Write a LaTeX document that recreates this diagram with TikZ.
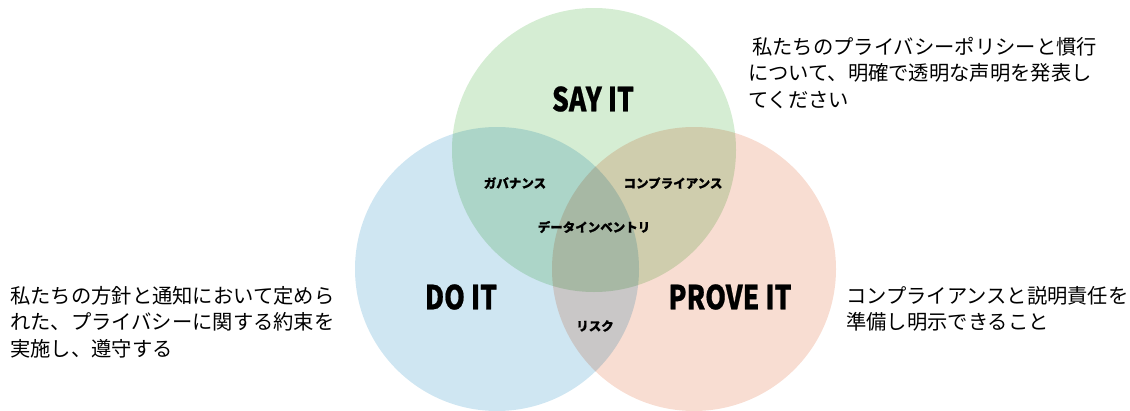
\documentclass[tikz,border=0pt]{standalone}
\usepackage{fontspec}
\newfontfamily\jp{Noto Sans CJK JP}
\definecolor{cgreen}{HTML}{D5EDD3}
\definecolor{cblue}{HTML}{CFE6F2}
\definecolor{corange}{HTML}{F8DDD2}
\newcommand{\bigtxt}[1]{\scalebox{0.8}[1]{#1}}
\tikzset{
  venn/.style={circle, minimum size=284pt, inner sep=0pt, draw=none},
  big/.style={font=\jp\bfseries\addfontfeatures{FakeBold=0.8}\fontsize{33}{36}\selectfont, inner sep=0pt},
  small/.style={font=\jp\bfseries\addfontfeatures{FakeBold=0.5}\fontsize{12.5}{14}\selectfont, inner sep=0pt},
  desc/.style={font=\jp\fontsize{20.3}{26.5}\selectfont, align=left, inner sep=0pt, anchor=west}
}
\begin{document}
\begin{tikzpicture}[x=1pt,y=-1pt]
\useasboundingbox (0,0) rectangle (1130,410);
\begin{scope}[blend group=multiply]
\node[venn, fill=cgreen] (say) at (594,150) {};
\node[venn, fill=cblue] (do) at (497,269) {};
\node[venn, fill=corange] (prove) at (694,269) {};
\end{scope}
\node[big] (sayt) at (593,99) {\bigtxt{SAY IT}};
\node[big] (dot) at (461,297) {\bigtxt{DO IT}};
\node[big] (provet) at (730,297) {\bigtxt{PROVE IT}};
\node[small] (gov) at (515,183) {ガバナンス};
\node[small] (comp) at (673,183) {コンプライアンス};
\node[small] (inv) at (594,227) {データインベントリ};
\node[small] (risk) at (595,326) {リスク};
\node[desc] (t1) at (748,73) {\hspace*{4pt}私たちのプライバシーポリシーと慣行\\について、明確で透明な声明を発表し\\てください};
\node[desc] (t2) at (10,322) {私たちの方針と通知において定めら\\れた、プライバシーに関する約束を\\実施し、遵守する};
\node[desc] (t3) at (846,309) {コンプライアンスと説明責任を\\準備し明示できること};
\end{tikzpicture}
\end{document}
